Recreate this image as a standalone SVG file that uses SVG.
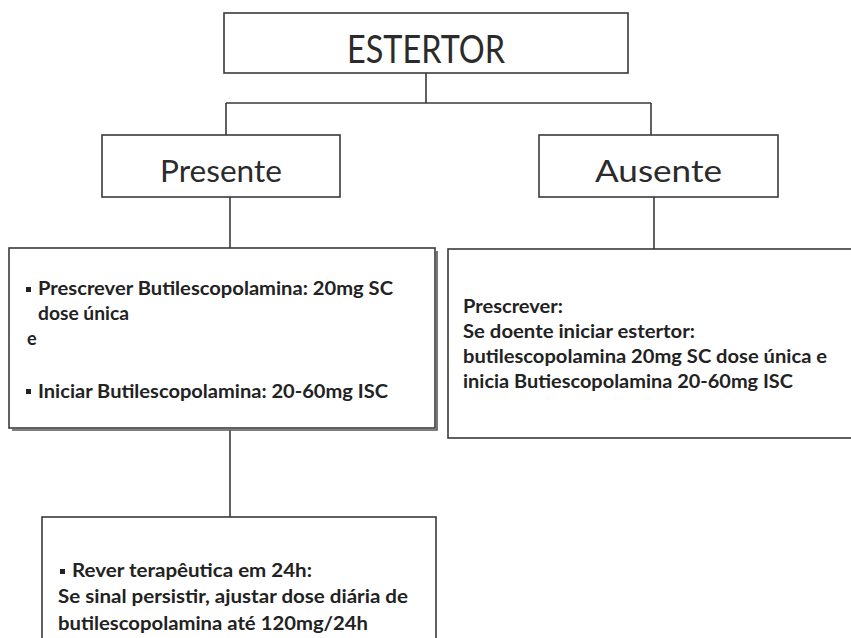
<svg xmlns="http://www.w3.org/2000/svg" width="851" height="638" viewBox="0 0 851 638">
  <style>
    .box { fill: #ffffff; stroke: #3a3a3a; stroke-width: 1.6; }
    .shadow { fill: none; stroke: #555555; stroke-width: 1.6; }
    .wire { fill: none; stroke: #3a3a3a; stroke-width: 1.6; }
    .title { font-family: Lato, "Open Sans", "Liberation Sans", sans-serif; fill: #2b2b2b; }
    .body { font-family: Lato, "Open Sans", "Liberation Sans", sans-serif; font-weight: bold; font-size: 18px; fill: #222222; }
    .bullet { fill: #222222; }
  </style>

  <rect width="851" height="638" fill="#ffffff"/>

  <!-- connectors -->
  <g id="connectors">
    <path class="wire" d="M426,73 V103 M226,103 H651 M226,103 V135 M651,103 V135"/>
    <path class="wire" d="M230,197 V248"/>
    <path class="wire" d="M654,197 V249"/>
    <path class="wire" d="M230,430 V517"/>
  </g>

  <!-- top decision node -->
  <g id="estertor">
    <rect class="box" x="224" y="13" width="404" height="60"/>
    <text class="title" x="347" y="63" font-size="39" textLength="158" lengthAdjust="spacingAndGlyphs">ESTERTOR</text>
  </g>

  <g id="presente">
    <rect class="box" x="102" y="135" width="238" height="62"/>
    <text class="title" x="160" y="182" font-size="31" textLength="122" lengthAdjust="spacingAndGlyphs">Presente</text>
  </g>

  <g id="ausente">
    <rect class="box" x="539" y="135" width="239" height="62"/>
    <text class="title" x="595" y="182" font-size="31" textLength="127" lengthAdjust="spacingAndGlyphs">Ausente</text>
  </g>

  <!-- treatment when present -->
  <g id="tratamento-presente">
    <path class="shadow" d="M437,251 V430 H12"/>
    <rect class="box" x="9" y="248" width="426" height="180"/>
    <rect class="bullet" x="26" y="287" width="5" height="5"/>
    <text class="body" x="38" y="295" textLength="355" lengthAdjust="spacingAndGlyphs">Prescrever Butilescopolamina: 20mg SC</text>
    <text class="body" x="38" y="320" textLength="91" lengthAdjust="spacingAndGlyphs">dose única</text>
    <text class="body" x="27" y="345">e</text>
    <rect class="bullet" x="26" y="389" width="5" height="5"/>
    <text class="body" x="38" y="398" textLength="350" lengthAdjust="spacingAndGlyphs">Iniciar Butilescopolamina: 20-60mg ISC</text>
  </g>

  <!-- treatment when absent -->
  <g id="tratamento-ausente">
    <rect class="box" x="448" y="249" width="410" height="189"/>
    <text class="body" x="463" y="313" textLength="100" lengthAdjust="spacingAndGlyphs">Prescrever:</text>
    <text class="body" x="463" y="338" textLength="232" lengthAdjust="spacingAndGlyphs">Se doente iniciar estertor:</text>
    <text class="body" x="463" y="363" textLength="364" lengthAdjust="spacingAndGlyphs">butilescopolamina 20mg SC dose única e</text>
    <text class="body" x="463" y="388" textLength="330" lengthAdjust="spacingAndGlyphs">inicia Butiescopolamina 20-60mg ISC</text>
  </g>

  <!-- review after 24h -->
  <g id="rever">
    <rect class="box" x="42" y="517" width="394" height="130"/>
    <rect class="bullet" x="60" y="569" width="5" height="5"/>
    <text class="body" x="72" y="577" textLength="240" lengthAdjust="spacingAndGlyphs">Rever terapêutica em 24h:</text>
    <text class="body" x="58" y="603" textLength="350" lengthAdjust="spacingAndGlyphs">Se sinal persistir, ajustar dose diária de</text>
    <text class="body" x="58" y="630" textLength="310" lengthAdjust="spacingAndGlyphs">butilescopolamina até 120mg/24h</text>
  </g>
</svg>
